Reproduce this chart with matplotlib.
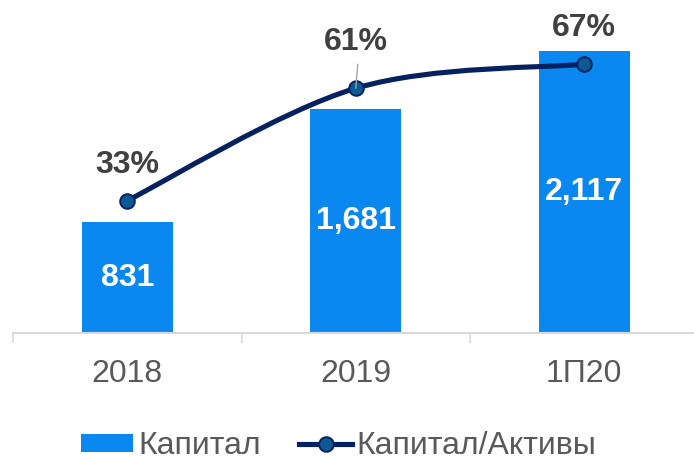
import numpy as np
import matplotlib
matplotlib.use("Agg")
import matplotlib.pyplot as plt
from matplotlib.path import Path
from matplotlib.patches import PathPatch
from matplotlib.lines import Line2D
from matplotlib.patches import Patch

CATEGORIES = ["2018", "2019", "1П20"]
CAPITAL = [831, 1681, 2117]
RATIO = [0.33, 0.61, 0.67]
RATIO_LABELS = ["33%", "61%", "67%"]

COL_BAR = "#0A88F0"
COL_LINE = "#06215F"
COL_MARK = "#0B5A94"
COL_TEXT = "#404040"
COL_TICK = "#595959"
FS = 23

plt.rcParams.update({"font.family": ["Liberation Sans", "DejaVu Sans"], "font.size": FS})

fig = plt.figure(figsize=(6.94, 4.61), dpi=100)
ax = fig.add_axes([13 / 694, 128 / 461, 685.5 / 694, 333 / 461])
x = np.arange(len(CATEGORIES))

bars = ax.bar(x, CAPITAL, width=0.4, color=COL_BAR, zorder=2)
ax.bar_label(bars, labels=[f"{v:,}" for v in CAPITAL], label_type="center",
             color="white", fontweight="bold", fontsize=FS)
ax.set_xlim(-0.5, 2.5)
ax.set_ylim(0, 2500)
ax.set_yticks([])
for s in ["top", "right", "left"]:
    ax.spines[s].set_visible(False)
ax.spines["bottom"].set_color("#D9D9D9")
ax.spines["bottom"].set_linewidth(1.5)
ax.set_xticks(x)
ax.set_xticklabels(CATEGORIES, color=COL_TICK, fontsize=FS)
ax.tick_params(axis="x", which="major", length=0, pad=19)
ax.set_xticks([-0.5, 0.5, 1.5, 2.5], minor=True)
ax.tick_params(axis="x", which="minor", length=7.5, width=1.2, color="#D9D9D9")

# secondary axis for the ratio line (smoothed like Excel)
ax2 = ax.twinx()
ax2.set_ylim(0, 0.83)
ax2.axis("off")
pts = np.column_stack([x, RATIO]).astype(float)
ext = np.vstack([pts[0], pts, pts[-1]])
verts = [tuple(pts[0])]
codes = [Path.MOVETO]
for i in range(len(pts) - 1):
    p0, p1, p2, p3 = ext[i], ext[i + 1], ext[i + 2], ext[i + 3]
    verts += [tuple(p1 + (p2 - p0) / 6), tuple(p2 - (p3 - p1) / 6), tuple(p2)]
    codes += [Path.CURVE4] * 3
ax2.add_patch(PathPatch(Path(verts, codes), fill=False, edgecolor=COL_LINE,
                        lw=3.7, capstyle="round", zorder=3))
ax2.plot(x, RATIO, ls="none", marker="o", ms=10.5, mfc=COL_MARK, mec=COL_LINE,
         mew=1.4, zorder=4)

offsets = [36, 46, 36]
for i, (v, lbl) in enumerate(zip(RATIO, RATIO_LABELS)):
    ax2.annotate(lbl, xy=(x[i], v), xytext=(0, offsets[i]), textcoords="offset pixels",
                 ha="center", va="center", fontsize=FS, fontweight="bold",
                 color=COL_TEXT, zorder=5)
ax2.annotate("", xy=(x[1], RATIO[1]), xytext=(2, 24), textcoords="offset pixels",
             arrowprops=dict(arrowstyle="-", color="#A6A6A6", lw=1.0,
                             shrinkA=0, shrinkB=0), zorder=5)

handles = [Patch(facecolor=COL_BAR, edgecolor="none", label="Капитал"),
           Line2D([0], [0], color=COL_LINE, lw=3.7, marker="o", ms=10.5,
                  mfc=COL_MARK, mec=COL_LINE, mew=1.4, label="Капитал/Активы")]
fig.legend(handles=handles, loc="center", bbox_to_anchor=(0.488, 1 - 446 / 461),
           ncol=2, frameon=False, fontsize=FS, labelcolor=COL_TICK,
           handlelength=1.65, handleheight=0.5, handletextpad=0.15,
           columnspacing=1.2, borderpad=0, borderaxespad=0)

fig.savefig("out.png", dpi=100)
